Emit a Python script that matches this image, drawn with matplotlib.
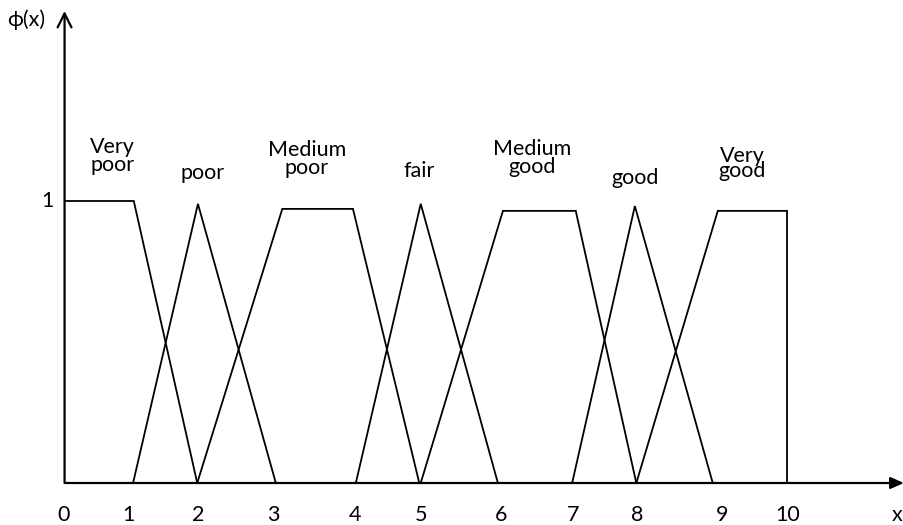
import matplotlib
matplotlib.use("Agg")
import matplotlib.pyplot as plt

# Membership functions (x breakpoints, membership values)
names = ["Very\npoor", "poor", "Medium\npoor", "fair", "Medium\ngood", "good", "Very\ngood"]
xs = [
    [0.0, 0.94, 1.82],
    [0.93, 1.83, 2.91],
    [1.82, 3.0, 3.98, 4.9],
    [4.02, 4.92, 5.99],
    [4.92, 6.06, 7.07, 7.91],
    [7.02, 7.89, 8.97],
    [7.91, 9.04, 10.0, 10.0],
]
ys = [
    [1.0, 1.0, 0.0],
    [0.0, 0.99, 0.0],
    [0.0, 0.972, 0.972, 0.0],
    [0.0, 0.99, 0.0],
    [0.0, 0.965, 0.965, 0.0],
    [0.0, 0.982, 0.0],
    [0.0, 0.965, 0.965, 0.0],
]
# label anchors: x centre, baseline of the last line (data units)
label_x = [0.64, 1.90, 3.34, 4.90, 6.46, 7.89, 9.38]
label_base = [1.106, 1.078, 1.096, 1.085, 1.099, 1.060, 1.085]
label_ls = [0.86, 0.86, 0.86, 0.86, 0.86, 0.86, 0.66]
tick_pos = [-0.03, 0.87, 1.84, 2.88, 4.01, 4.92, 6.03, 7.03, 7.92, 9.1, 10.01]
tick_labels = ["0", "1", "2", "3", "4", "5", "6", "7", "8", "9", "10"]

plt.rcParams['font.family'] = ['Lato', 'DejaVu Sans']
FS = 15.5

fig = plt.figure(figsize=(9.04, 5.25), dpi=100)
ax = fig.add_axes([0, 0, 1, 1])
ax.set_xlim(-66 / 72.1, (904 - 66) / 72.1)
ax.set_ylim(-42 / 282, (525 - 42) / 282)
ax.axis("off")

for x, y in zip(xs, ys):
    ax.plot(x, y, color="black", lw=1.3, solid_joinstyle="miter")

for name, lx, lb, ls in zip(names, label_x, label_base, label_ls):
    ax.text(lx, lb, name, ha="center", va="baseline", fontsize=FS, linespacing=ls,
            multialignment="center")

# axes with arrows
xmax = (904 - 66) / 72.1
ax.annotate("", xy=(xmax, 0), xytext=(0, 0),
            arrowprops=dict(arrowstyle="-|>,head_length=0.8,head_width=0.35", color="black", lw=1.6,
                            shrinkA=0, shrinkB=0))
ytop = (483 - 11) / 282
ax.annotate("", xy=(-0.02, ytop), xytext=(-0.02, 0),
            arrowprops=dict(arrowstyle="->,head_length=1.0,head_width=0.5", color="black", lw=1.6,
                            shrinkA=0, shrinkB=0))

for tp, tl in zip(tick_pos, tick_labels):
    ax.text(tp, -0.113, tl, ha="center", va="center", fontsize=FS)
ax.text(xmax - 0.02, -0.113, "x", ha="right", va="center", fontsize=FS)
ax.text(-0.26, 1.0, "1", ha="center", va="center", fontsize=FS)
ax.text(-0.55, (483 - 20) / 282, "ϕ(x)", ha="center", va="center", fontsize=FS)

fig.savefig("out.png", dpi=100)
